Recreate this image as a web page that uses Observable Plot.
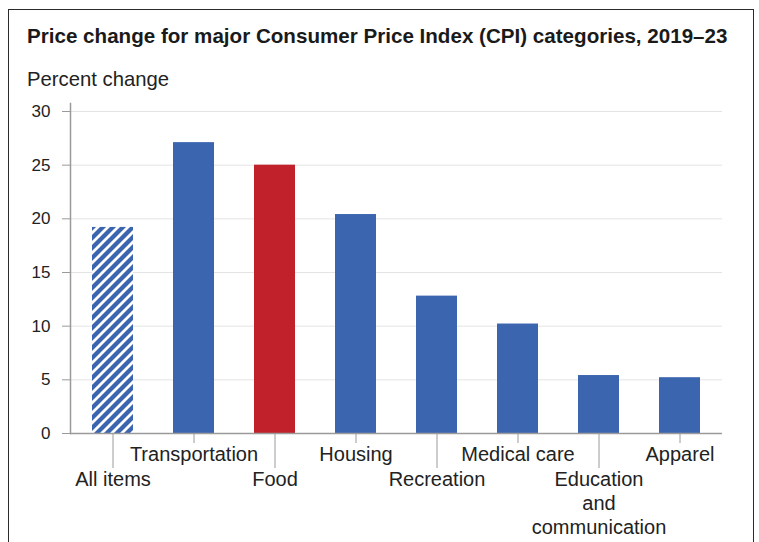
<!DOCTYPE html>
<html><head>
<meta charset="utf-8">
<script src="https://cdn.jsdelivr.net/npm/d3@7"></script>
<script src="https://cdn.jsdelivr.net/npm/@observablehq/plot@0.6"></script>
<style>
body{margin:0;background:#fff;font-family:"Liberation Sans",Arial,sans-serif;}
#wrap{position:relative;width:759px;height:542px;overflow:hidden;background:#fff}
#frame{position:absolute;left:8px;top:9px;width:744px;height:600px;border:1.5px solid #2b2b2b}
#title{position:absolute;left:27px;top:24px;font-weight:bold;font-size:20.6px;color:#1a1a1a;white-space:nowrap}
#sub{position:absolute;left:27px;top:68px;font-size:20.3px;color:#222;white-space:nowrap}
#chart{position:absolute;left:0;top:95px}
</style></head>
<body><div id="wrap"><div id="frame"></div>
<div id="title">Price change for major Consumer Price Index (CPI) categories, 2019–23</div>
<div id="sub">Percent change</div>
<div id="chart"></div></div>
<script>
const categories = ["All items","Transportation","Food","Housing","Recreation","Medical care","Education and communication","Apparel"];
const values = [19.2, 27.1, 25.0, 20.4, 12.8, 10.2, 5.4, 5.2];
const tickLabels = ["All items","Transportation","Food","Housing","Recreation","Medical care","Education\nand\ncommunication","Apparel"];
const yTicks = [0, 5, 10, 15, 20, 25, 30];

const BLUE = "#3c65b0", RED = "#c1212b";
const data = categories.map((c, i) => ({category: c, value: values[i], label: tickLabels[i]}));
const labelOf = Object.fromEntries(data.map(d => [d.category, d.label]));
const fillOf = c => c === "All items" ? "url(#hatch)" : c === "Food" ? RED : BLUE;

const upper = categories.filter((_, i) => i % 2 === 1);
const lower = categories.filter((_, i) => i % 2 === 0);

const chart = Plot.plot({
  width: 759, height: 447,
  marginLeft: 70, marginRight: 37, marginTop: 16, marginBottom: 109,
  style: {fontFamily: "'Liberation Sans', Arial, sans-serif", fontSize: "17px", color: "#222", overflow: "visible", background: "transparent"},
  x: {domain: categories, paddingInner: 0.5, paddingOuter: 0.25, align: 0.5},
  y: {domain: [0, 30]},
  color: {type: "identity"},
  marks: [
    Plot.gridY(yTicks.filter(t => t > 0), {stroke: "#e4e4e4", strokeOpacity: 1, strokeWidth: 1}),
    Plot.barY(data, {x: "category", y: "value", fill: d => fillOf(d.category)}),
    Plot.ruleY([0], {stroke: "#9a9a9a", strokeWidth: 1.5}),
    Plot.frame({anchor: "left", stroke: "#9a9a9a", strokeWidth: 1.5, insetTop: -8}),
    Plot.axisY({ticks: yTicks, tickSize: 8, tickPadding: 12, label: null, stroke: "#9a9a9a", fill: "#222", fontSize: 17}),
    Plot.axisX({ticks: upper, tickSize: 10, tickPadding: 0, label: null, tickFormat: c => labelOf[c], stroke: "#9a9a9a", fill: "#222", fontSize: 20, lineHeight: 1.2}),
    Plot.axisX({ticks: lower, tickSize: 35, tickPadding: 0, label: null, tickFormat: c => labelOf[c], stroke: "#9a9a9a", fill: "#222", fontSize: 20, lineHeight: 1.2})
  ]
});

const svg = d3.select(chart);
const defs = svg.insert("defs", ":first-child");
const pat = defs.append("pattern").attr("id", "hatch").attr("patternUnits", "userSpaceOnUse")
  .attr("width", 10).attr("height", 10);
pat.append("rect").attr("width", 10).attr("height", 10).attr("fill", BLUE);
pat.append("path").attr("d", "M-2.5,2.5 L2.5,-2.5 M0,10 L10,0 M7.5,12.5 L12.5,7.5").attr("stroke", "#fff").attr("stroke-width", 2.8);

document.getElementById("chart").appendChild(chart);
</script>
</body></html>
